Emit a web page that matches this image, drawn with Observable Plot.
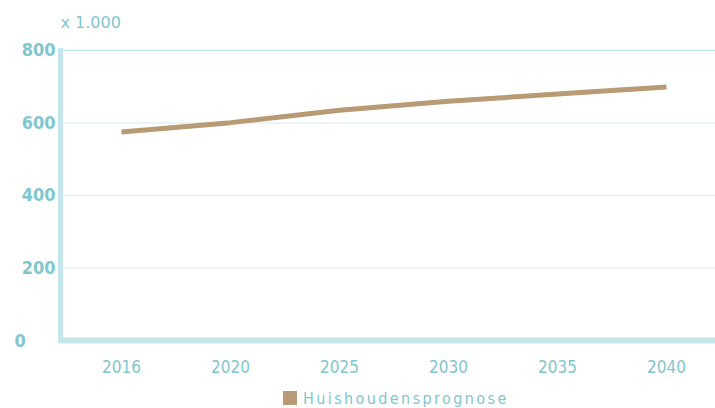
<!DOCTYPE html>
<html>
<head>
<meta charset="utf-8">
<script src="https://cdn.jsdelivr.net/npm/d3@7"></script>
<script src="https://cdn.jsdelivr.net/npm/@observablehq/plot@0.6"></script>
<style>
  html, body { margin: 0; padding: 0; background: #fff; }
  #chart { width: 715px; }
  .legend { display: flex; justify-content: flex-start; align-items: center; height: 28px; margin-top: 4px;
    padding-left: 283px;
    font-family: "DejaVu Sans Condensed", sans-serif; font-size: 16px;
    color: #80c6cf; letter-spacing: 2.4px; }
  .legend .sw { width: 14px; height: 14px; background: #b89b74; margin-right: 6px; }
</style>
</head>
<body>
<div id="chart"></div>
<script>
const years = ["2016", "2020", "2025", "2030", "2035", "2040"];
const households = [575, 601, 635, 660, 680, 699];
const yTicks = [0, 200, 400, 600, 800];
const unitLabel = "x 1.000";
const seriesName = "Huishoudensprognose";

const data = years.map((y, i) => ({year: y, value: households[i]}));
const teal = "#80c6cf";
const axisColor = "#c4e6ea";

const plot = Plot.plot({
  width: 715,
  height: 380,
  marginLeft: 60,
  marginRight: 0,
  marginTop: 50,
  marginBottom: 40,
  style: {fontFamily: "DejaVu Sans Condensed, sans-serif", background: "#fff"},
  x: {type: "point", domain: years, range: [119, 668], padding: 0},
  y: {domain: [0, 800]},
  marks: [
    Plot.gridY(yTicks.filter(d => d > 0 && d < 800), {stroke: "#e3f2f4", strokeOpacity: 1, strokeWidth: 1.5}),
    Plot.ruleY([800], {stroke: axisColor, strokeWidth: 1.5}),
    Plot.ruleY([0], {stroke: axisColor, strokeWidth: 6}),
    Plot.frame({anchor: "left", stroke: axisColor, strokeWidth: 5}),
    Plot.axisY(yTicks.filter(d => d > 0), {tickSize: 0, tickPadding: 5, label: null, fill: teal,
      fontSize: 18, fontWeight: 600, style: "letter-spacing:1.5px"}),
    Plot.axisY([0], {tickSize: 0, tickPadding: 5, label: null, fill: teal, textAnchor: "start", dx: -41, dy: 1,
      fontSize: 18, fontWeight: 600}),
    Plot.axisX({tickSize: 0, tickPadding: 20, label: null, fill: teal, fontSize: 17,
      style: "letter-spacing:1px"}),
    Plot.text([unitLabel], {frameAnchor: "top-left", dx: 0, dy: -34, fill: teal, fontSize: 16,
      fontFamily: "DejaVu Sans, sans-serif", textAnchor: "start", style: "letter-spacing:1.3px"}),
    Plot.line(data, {x: "year", y: "value", stroke: "#b89b74", strokeWidth: 5, strokeLinecap: "butt"})
  ]
});
document.getElementById("chart").appendChild(plot);

const legend = document.createElement("div");
legend.className = "legend";
legend.innerHTML = `<span class="sw"></span><span>${seriesName}</span>`;
document.getElementById("chart").appendChild(legend);
</script>
</body>
</html>
